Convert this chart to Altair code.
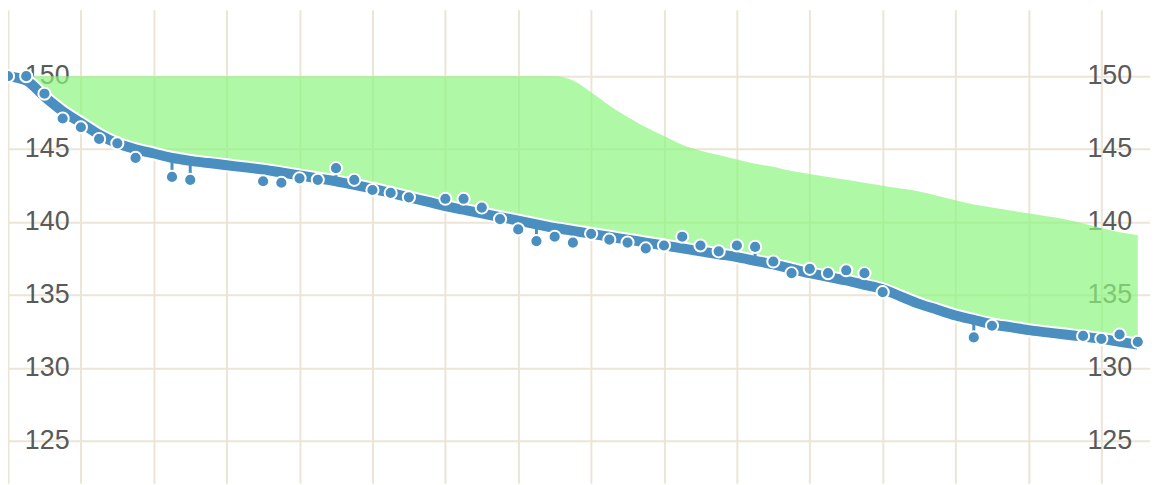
import altair as alt
import pandas as pd

DAYS = list(range(63))
TREND = [150.0, 149.7, 148.6, 147.6, 146.8, 146.0, 145.4, 145.0, 144.7, 144.4,
         144.2, 144.05, 143.9, 143.75, 143.6, 143.4, 143.2, 143.0, 142.8, 142.55,
         142.3, 142.0, 141.7, 141.4, 141.1, 140.85, 140.6, 140.35, 140.1, 139.85,
         139.6, 139.4, 139.2, 139.0, 138.8, 138.6, 138.4, 138.2, 138.0, 137.8,
         137.6, 137.35, 137.1, 136.8, 136.5, 136.25, 136.0, 135.7, 135.4, 134.9,
         134.4, 134.0, 133.6, 133.3, 133.0, 132.8, 132.6, 132.45, 132.3, 132.15,
         132.0, 131.8, 131.6]
GOAL = [150.0] * 31 + [149.7, 148.9, 148.0, 147.2, 146.5, 145.9, 145.3, 144.9, 144.6,
                       144.3, 144.0, 143.8, 143.5, 143.3, 143.1, 142.9, 142.7, 142.5,
                       142.3, 142.1, 141.8, 141.5, 141.2, 141.0, 140.8, 140.6, 140.4,
                       140.2, 139.9, 139.6, 139.3, 139.1]

WEIGH_DAYS = [0, 1, 2, 3, 4, 5, 6, 7, 9, 10, 14, 15, 16, 17, 18, 19, 20, 21, 22, 24,
              25, 26, 27, 28, 29, 30, 31, 32, 33, 34, 35, 36, 37, 38, 39, 40, 41, 42,
              43, 44, 45, 46, 47, 48, 53, 54, 59, 60, 61, 62]
WEIGHTS = [150.0, 150.0, 148.8, 147.1, 146.5, 145.7, 145.4, 144.4, 143.1, 142.9,
           142.8, 142.7, 143.0, 142.9, 143.7, 142.9, 142.2, 142.0, 141.7, 141.6,
           141.6, 141.0, 140.2, 139.5, 138.7, 139.0, 138.6, 139.2, 138.8, 138.6,
           138.2, 138.4, 139.0, 138.4, 138.0, 138.4, 138.3, 137.3, 136.5, 136.8,
           136.5, 136.7, 136.5, 135.2, 132.1, 132.9, 132.2, 132.0, 132.3, 131.8]
Y_TICKS = [125, 130, 135, 140, 145, 150]

BLUE = '#4a8fc0'
GRID = '#ece5d6'

trend = pd.DataFrame({'day': DAYS, 'trend': TREND, 'goal': GOAL})
weigh = pd.DataFrame({'day': WEIGH_DAYS, 'weight': WEIGHTS})
weigh['trend'] = [TREND[d] for d in WEIGH_DAYS]
labels = pd.DataFrame({'v': Y_TICKS})

xs = alt.Scale(domain=[0, 62.67], nice=False)
ys = alt.Scale(domain=[122.1, 154.56], nice=False, zero=False)
x_axis = alt.Axis(values=DAYS, labels=False, ticks=False, domain=False, title=None,
                  grid=True, gridColor=GRID, gridWidth=2)
y_axis = alt.Axis(values=Y_TICKS, labels=False, ticks=False, domain=False, title=None,
                  grid=True, gridColor=GRID, gridWidth=2)

base_grid = alt.Chart(labels).mark_point(opacity=0).encode(
    x=alt.X('v:Q', scale=xs, axis=x_axis),
    y=alt.Y('v:Q', scale=ys, axis=y_axis),
)

text_kw = dict(fontSize=27, font='Liberation Sans', color='#5a5a5a', baseline='middle', align='right')
left_labels = alt.Chart(labels).mark_text(**text_kw).encode(
    x=alt.value(62), y=alt.Y('v:Q', scale=ys), text='v:Q')
right_labels = alt.Chart(labels).mark_text(**text_kw).encode(
    x=alt.value(1132), y=alt.Y('v:Q', scale=ys), text='v:Q')

area = alt.Chart(trend).mark_area(color='#8df57f', opacity=0.7, interpolate='monotone').encode(
    x=alt.X('day:Q', scale=xs), y=alt.Y('trend:Q', scale=ys), y2='goal:Q')

line_edge = alt.Chart(trend).mark_line(color='white', strokeWidth=14, interpolate='monotone').encode(
    x=alt.X('day:Q', scale=xs), y=alt.Y('trend:Q', scale=ys))
line = alt.Chart(trend).mark_line(color=BLUE, strokeWidth=10, interpolate='monotone').encode(
    x=alt.X('day:Q', scale=xs), y=alt.Y('trend:Q', scale=ys))

rules = alt.Chart(weigh).mark_rule(color=BLUE, strokeWidth=3).encode(
    x=alt.X('day:Q', scale=xs), y=alt.Y('weight:Q', scale=ys), y2='trend:Q')
points = alt.Chart(weigh).mark_circle(size=150, color=BLUE, opacity=1,
                                       stroke='white', strokeWidth=2).encode(
    x=alt.X('day:Q', scale=xs), y=alt.Y('weight:Q', scale=ys))

chart = alt.layer(base_grid, left_labels, right_labels, area, line_edge, line, rules, points).properties(
    width=1150, height=477, padding=0, autosize=alt.AutoSizeParams(type='none'),
    background='white',
).configure_view(stroke=None)

chart.save("out.html", embed_options={"renderer": "svg", "actions": False})
